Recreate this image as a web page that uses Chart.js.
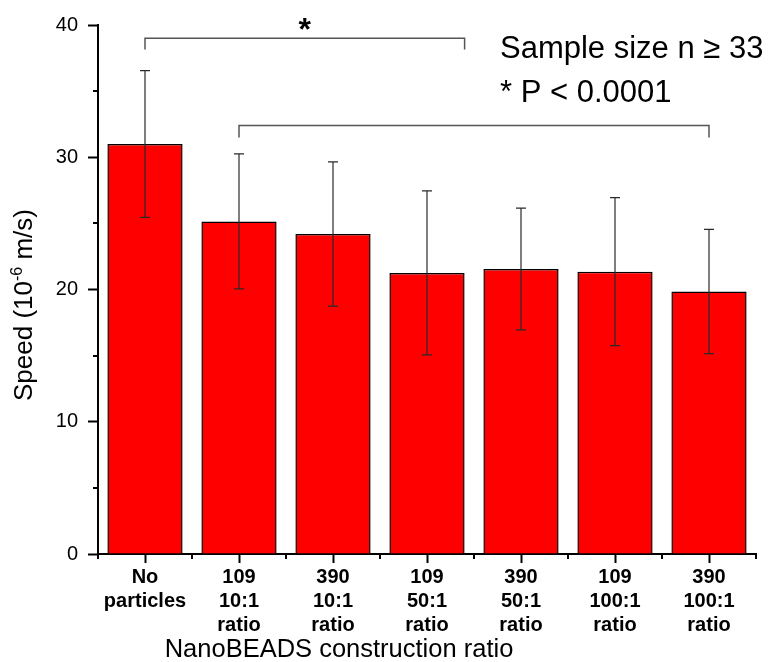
<!DOCTYPE html>
<html>
<head>
<meta charset="utf-8">
<script src="https://cdn.jsdelivr.net/npm/chart.js@4.4.1/dist/chart.umd.min.js"></script>
<style>
  html, body { margin: 0; padding: 0; background: #fff; }
  #wrap { width: 771px; height: 662px; }
</style>
</head>
<body>
<div id="wrap"><canvas id="myChart" width="771" height="662"></canvas></div>
<script>
// categories (multi-line tick labels)
const categories = [
  ["No", "particles"],
  ["109", "10:1", "ratio"],
  ["390", "10:1", "ratio"],
  ["109", "50:1", "ratio"],
  ["390", "50:1", "ratio"],
  ["109", "100:1", "ratio"],
  ["390", "100:1", "ratio"],
];
// mean speed (10^-6 m/s) and standard deviation
const speeds = [31.0, 25.15, 24.2, 21.25, 21.55, 21.35, 19.85];
const errors = [5.55, 5.1, 5.45, 6.2, 4.6, 5.6, 4.7];
const yTicks = [0, 10, 20, 30, 40];
const yMinorTicks = [5, 15, 25, 35];

// significance brackets (category index from / to, height in data units)
const bracketFrom = [0, 1];
const bracketTo = [3.4, 6];
const bracketY = [39.0, 32.4];
const bracketDrop = [0.85, 0.9];
const bracketStar = [true, false];

const noteLines = ["Sample size n \u2265 33", "* P < 0.0001"];

const SANS = "'Liberation Sans', Arial, sans-serif";

// draws error bars, minor ticks, brackets and text notes
const extrasPlugin = {
  id: "extras",
  afterDatasetsDraw(chart) {
    const ctx = chart.ctx;
    const x = chart.scales.x;
    const y = chart.scales.y;

    // error bars
    ctx.save();
    ctx.strokeStyle = "#2a2a2a";
    ctx.lineWidth = 1.2;
    speeds.forEach((v, i) => {
      const cx = x.getPixelForValue(i);
      const top = y.getPixelForValue(v + errors[i]);
      const bot = y.getPixelForValue(v - errors[i]);
      ctx.beginPath();
      ctx.moveTo(cx, top);
      ctx.lineTo(cx, bot);
      ctx.moveTo(cx - 5, top);
      ctx.lineTo(cx + 5, top);
      ctx.moveTo(cx - 5, bot);
      ctx.lineTo(cx + 5, bot);
      ctx.stroke();
    });
    ctx.restore();
  },
  afterDraw(chart) {
    const ctx = chart.ctx;
    const x = chart.scales.x;
    const y = chart.scales.y;
    const area = chart.chartArea;

    // minor ticks
    ctx.save();
    ctx.strokeStyle = "#000";
    ctx.lineWidth = 2;
    ctx.beginPath();
    yMinorTicks.forEach((v) => {
      const py = Math.round(y.getPixelForValue(v));
      ctx.moveTo(area.left, py);
      ctx.lineTo(area.left - 5, py);
    });
    for (let i = 0; i <= categories.length; i++) {
      const px = Math.round(x.getPixelForValue(i - 0.5));
      ctx.moveTo(px, area.bottom);
      ctx.lineTo(px, area.bottom + 5);
    }
    ctx.stroke();
    ctx.restore();

    // brackets
    ctx.save();
    ctx.strokeStyle = "#555";
    ctx.lineWidth = 1.5;
    bracketFrom.forEach((f, i) => {
      const x1 = x.getPixelForValue(f);
      const x2 = x.getPixelForValue(bracketTo[i]);
      const yy = y.getPixelForValue(bracketY[i]);
      const yd = y.getPixelForValue(bracketY[i] - bracketDrop[i]);
      ctx.beginPath();
      ctx.moveTo(x1, yd);
      ctx.lineTo(x1, yy);
      ctx.lineTo(x2, yy);
      ctx.lineTo(x2, yd);
      ctx.stroke();
      if (bracketStar[i]) {
        ctx.fillStyle = "#000";
        ctx.font = "bold 32px " + SANS;
        ctx.textAlign = "center";
        ctx.textBaseline = "alphabetic";
        ctx.fillText("*", (x1 + x2) / 2, yy + 2);
      }
    });
    ctx.restore();

    // notes
    ctx.save();
    ctx.fillStyle = "#000";
    ctx.font = "31px " + SANS;
    ctx.textAlign = "left";
    ctx.textBaseline = "alphabetic";
    ctx.fillText(noteLines[0], 500, 58);
    ctx.fillText(noteLines[1], 500, 102);
    ctx.restore();

    // y axis title with superscript
    ctx.save();
    ctx.fillStyle = "#000";
    ctx.translate(32, 305);
    ctx.rotate(-Math.PI / 2);
    ctx.textBaseline = "alphabetic";
    ctx.textAlign = "left";
    const big = "26px " + SANS;
    const small = "16px " + SANS;
    const parts = [["Speed (10", big, 0], ["-6", small, -10], [" m/s)", big, 0]];
    let total = 0;
    parts.forEach((p) => { ctx.font = p[1]; total += ctx.measureText(p[0]).width; });
    let cx = -total / 2;
    parts.forEach((p) => {
      ctx.font = p[1];
      ctx.fillText(p[0], cx, p[2]);
      cx += ctx.measureText(p[0]).width;
    });
    ctx.restore();

    // x axis title
    ctx.save();
    ctx.fillStyle = "#000";
    ctx.font = "25.5px " + SANS;
    ctx.textAlign = "center";
    ctx.textBaseline = "alphabetic";
    ctx.fillText("NanoBEADS construction ratio", 339, 657);
    ctx.restore();
  },
};

new Chart(document.getElementById("myChart"), {
  type: "bar",
  data: {
    labels: categories,
    datasets: [
      {
        data: speeds,
        backgroundColor: "#ff0000",
        borderColor: "#000",
        borderWidth: 1.5,
        barPercentage: 0.8,
        categoryPercentage: 1.0,
      },
    ],
  },
  options: {
    responsive: false,
    animation: false,
    events: [],
    layout: { padding: { left: 0, top: 25, right: 15, bottom: 0 } },
    plugins: { legend: { display: false }, tooltip: { enabled: false } },
    scales: {
      x: {
        offset: true,
        grid: {
          offset: false,
          drawOnChartArea: false,
          tickLength: 9,
          tickWidth: 2,
          tickColor: "#000",
        },
        border: { color: "#000", width: 2 },
        ticks: {
          color: "#000",
          padding: 2,
          maxRotation: 0,
          autoSkip: false,
          font: { family: SANS, size: 20, weight: "bold", lineHeight: 1.2 },
        },
        afterFit: (scale) => { scale.height = 108; },
      },
      y: {
        min: 0,
        max: 40,
        afterBuildTicks: (scale) => { scale.ticks = yTicks.map((v) => ({ value: v })); },
        grid: {
          drawOnChartArea: false,
          tickLength: 10,
          tickWidth: 2,
          tickColor: "#000",
        },
        border: { color: "#000", width: 2 },
        ticks: {
          color: "#000",
          padding: 10,
          font: { family: SANS, size: 20 },
        },
        afterFit: (scale) => { scale.width = 98; },
      },
    },
  },
  plugins: [extrasPlugin],
});
</script>
</body>
</html>
